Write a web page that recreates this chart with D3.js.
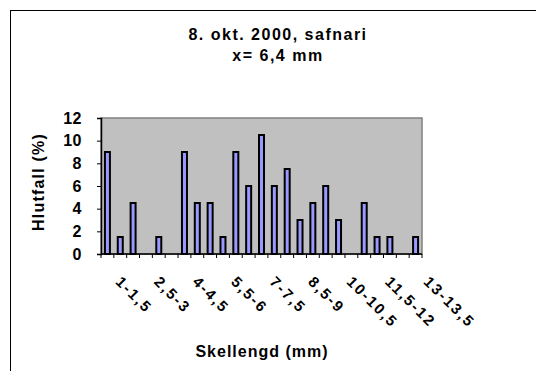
<!DOCTYPE html>
<html>
<head>
<meta charset="utf-8">
<script src="https://cdn.jsdelivr.net/npm/d3@7/dist/d3.min.js"></script>
<style>
  body { margin: 0; background: #fff; }
  text { font-family: "Liberation Sans", Arial, sans-serif; font-weight: bold; fill: #000; }
</style>
</head>
<body>
<div class="my_div"></div>
<script>
// Size classes (mm) and share in each (%)
var categories = ["1-1,5", "1,5-2", "2-2,5", "2,5-3", "3-3,5", "3,5-4", "4-4,5", "4,5-5",
    "5-5,5", "5,5-6", "6-6,5", "6,5-7", "7-7,5", "7,5-8", "8-8,5", "8,5-9", "9-9,5",
    "9,5-10", "10-10,5", "10,5-11", "11-11,5", "11,5-12", "12-12,5", "12,5-13", "13-13,5"];
var values = [9, 1.5, 4.5, 0, 1.5, 0, 9, 4.5, 4.5, 1.5, 9, 6, 10.5, 6, 7.5, 3, 4.5, 6, 3, 0,
    4.5, 1.5, 1.5, 0, 1.5];
var yTicks = [0, 2, 4, 6, 8, 10, 12];
var titleLines = ["8. okt. 2000, safnari", "x= 6,4 mm"];

var width = 536,
    height = 371;

var plot = { left: 101, right: 422, top: 118, bottom: 254 };

var svg = d3.select(".my_div")
    .append("svg")
    .attr("width", width)
    .attr("height", height)

// Outer chart frame (runs off the right and bottom edge)
svg.append("rect")
    .attr("x", 10.5)
    .attr("y", 10.5)
    .attr("width", 600)
    .attr("height", 600)
    .attr("fill", "none")
    .attr("stroke", "#000")

var xScale = d3.scaleBand()
    .domain(categories)
    .range([plot.left, plot.right])

var yScale = d3.scaleLinear()
    .domain([0, 12])
    .range([plot.bottom, plot.top])

// Plot background
svg.append("rect")
    .attr("x", plot.left)
    .attr("y", plot.top)
    .attr("width", plot.right - plot.left)
    .attr("height", plot.bottom - plot.top)
    .attr("fill", "#c0c0c0")
    .attr("stroke", "#808080")
    .attr("stroke-width", 1.5)

// Bars
var data = categories.map((c, i) => { return { cat: c, v: values[i] } })

svg.selectAll("rect.bar")
    .data(data.filter((d) => { return d.v > 0 }))
    .enter()
    .append("rect")
    .attr("class", "bar")
    .attr("x", (d) => { return xScale(d.cat) + xScale.bandwidth() / 2 - 2.5 })
    .attr("y", (d) => { return yScale(d.v) })
    .attr("width", 5)
    .attr("height", (d) => { return yScale(0) - yScale(d.v) })
    .attr("fill", "#9999ff")
    .attr("stroke", "#000")
    .attr("stroke-width", 2)

// Y axis
var yAxis = svg.append("g")
    .attr("transform", "translate(" + plot.left + ",0)")
    .call(d3.axisLeft(yScale).tickValues(yTicks).tickSize(4).tickPadding(15))

yAxis.select(".domain").attr("stroke", "#000").attr("stroke-width", 1.5)
yAxis.selectAll(".tick line").attr("stroke", "#000")
yAxis.selectAll("text")
    .style("font-size", "16px")
    .style("letter-spacing", "0.5px")

// X axis with ticks on the band edges
var xAxis = svg.append("g")
    .attr("transform", "translate(0," + plot.bottom + ")")

xAxis.append("line")
    .attr("x1", plot.left)
    .attr("x2", plot.right)
    .attr("stroke", "#000")
    .attr("stroke-width", 1.5)

xAxis.selectAll("line.t")
    .data(categories.concat(["end"]))
    .enter()
    .append("line")
    .attr("class", "t")
    .attr("x1", (d, i) => { return i < categories.length ? xScale(d) : plot.right })
    .attr("x2", (d, i) => { return i < categories.length ? xScale(d) : plot.right })
    .attr("y1", 0)
    .attr("y2", 4)
    .attr("stroke", "#000")

xAxis.selectAll("text")
    .data(categories.filter((d, i) => { return i % 3 === 0 }))
    .enter()
    .append("text")
    .attr("transform", (d) => {
        return "translate(" + (xScale(d) + xScale.bandwidth() / 2 + 11) + ",25) rotate(45)"
    })
    .attr("text-anchor", "start")
    .attr("dy", "0.35em")
    .style("font-size", "15px")
    .style("letter-spacing", "2px")
    .text((d) => { return d })

// Titles
svg.selectAll(".title")
    .data(titleLines)
    .enter()
    .append("text")
    .attr("class", "title")
    .attr("x", 278)
    .attr("y", (d, i) => { return 40 + i * 21 })
    .attr("text-anchor", "middle")
    .style("font-size", "16px")
    .style("letter-spacing", "1.5px")
    .text((d) => { return d })

svg.append("text")
    .text("Skellengd (mm)")
    .attr("x", 262)
    .attr("y", 357)
    .attr("text-anchor", "middle")
    .style("font-size", "16px")
    .style("letter-spacing", "1px")

svg.append("text")
    .text("Hlutfall (%)")
    .attr("transform", "translate(44," + ((plot.top + plot.bottom) / 2 - 4) + ") rotate(-90)")
    .attr("text-anchor", "middle")
    .style("font-size", "16px")
    .style("letter-spacing", "1.2px")
</script>
</body>
</html>
